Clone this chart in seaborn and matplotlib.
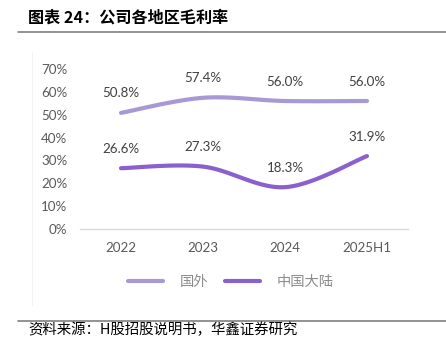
import numpy as np
import pandas as pd
import matplotlib
matplotlib.use("Agg")
import matplotlib.pyplot as plt
from matplotlib.lines import Line2D
import seaborn as sns

categories = ["2022", "2023", "2024", "2025H1"]
overseas = [50.8, 57.4, 56.0, 56.0]
mainland = [26.6, 27.3, 18.3, 31.9]
series_names = ["国外", "中国大陆"]
yticks = [0, 10, 20, 30, 40, 50, 60, 70]
title = "图表 24：公司各地区毛利率"
source = "资料来源：H股招股说明书，华鑫证券研究"

colors = {"国外": "#A898D3", "中国大陆": "#8A60CE"}

sns.set_theme(style="white")
plt.rcParams["font.family"] = ["Lato", "Noto Sans CJK SC", "DejaVu Sans"]


def smooth(xs, ys, n=40):
    """Excel-like smoothed line via cubic Bezier segments (Catmull-Rom tangents)."""
    xs = np.asarray(xs, float)
    ys = np.asarray(ys, float)
    px, py = [], []
    k = len(xs)
    for i in range(k - 1):
        i0 = max(i - 1, 0)
        i3 = min(i + 2, k - 1)
        p0 = np.array([xs[i], ys[i]])
        p3 = np.array([xs[i + 1], ys[i + 1]])
        c1 = p0 + (p3 - np.array([xs[i0], ys[i0]])) / 6.0
        c2 = p3 - (np.array([xs[i3], ys[i3]]) - p0) / 6.0
        t = np.linspace(0, 1, n)[:, None]
        pts = ((1 - t) ** 3) * p0 + 3 * ((1 - t) ** 2) * t * c1 + 3 * (1 - t) * t ** 2 * c2 + t ** 3 * p3
        if i > 0:
            pts = pts[1:]
        px.extend(pts[:, 0])
        py.extend(pts[:, 1])
    return px, py


xpos = np.arange(len(categories))
frames = []
for name, vals in zip(series_names, [overseas, mainland]):
    sx, sy = smooth(xpos, vals)
    frames.append(pd.DataFrame({"x": sx, "y": sy, "series": name, "order": np.arange(len(sx))}))
df = pd.concat(frames, ignore_index=True)

fig = plt.figure(figsize=(4.46, 3.38), dpi=100)
ax = fig.add_axes([80 / 446, 1 - 229 / 338, 328 / 446, 160 / 338])

sns.lineplot(data=df, x="x", y="y", hue="series", palette=colors, sort=False,
             estimator=None, units="series", linewidth=3.0, legend=False, ax=ax,
             solid_capstyle="round")

for name, vals in zip(series_names, [overseas, mainland]):
    for xi, v in zip(xpos, vals):
        ax.annotate(f"{v:.1f}%", (xi, v), xytext=(0, 14), textcoords="offset points",
                    ha="center", va="center", fontsize=9.6, color="#404040")

ax.set_xlim(-0.5, len(categories) - 0.5)
ax.set_ylim(0, 70)
ax.set_yticks(yticks)
ax.set_yticklabels([f"{t}%" for t in yticks])
ax.set_xticks(xpos)
ax.set_xticklabels(categories)
ax.tick_params(axis="both", length=0, labelsize=9.6, labelcolor="#595959")
ax.tick_params(axis="y", pad=9)
ax.tick_params(axis="x", pad=9)
ax.set_xlabel("")
ax.set_ylabel("")
for s in ["top", "right", "left"]:
    ax.spines[s].set_visible(False)
ax.spines["bottom"].set_color("#D9D9D9")
ax.spines["bottom"].set_linewidth(1.0)
ax.grid(False)

handles = [Line2D([], [], color=colors[n], lw=3.0, solid_capstyle="round") for n in series_names]
leg = fig.legend(handles, series_names, loc="center", bbox_to_anchor=(231 / 446, 1 - 281 / 338),
                 ncol=2, frameon=False, fontsize=10.3, handlelength=2.4, handletextpad=1.2,
                 columnspacing=1.2, labelcolor="#8C8C8C")

fig.text(28 / 446, 1 - 18 / 338, title, fontsize=11.6, fontweight="bold", va="center", ha="left",
         family=["Noto Sans CJK SC", "DejaVu Sans"], color="#000000")
fig.add_artist(Line2D([18 / 446, 1.0], [1 - 32 / 338] * 2, color="#7F7F7F", lw=1.2))
fig.add_artist(Line2D([32 / 446] * 2, [1 - 52 / 338, 1 - 305 / 338], color="#F2F2F2", lw=0.8))
fig.add_artist(Line2D([18 / 446, 1.0], [1 - 321 / 338] * 2, color="#7F7F7F", lw=1.2))
fig.text(28 / 446, 1 - 330 / 338, source, fontsize=10.4, va="center", ha="left",
         family=["Noto Sans CJK SC", "DejaVu Sans"], color="#000000")

fig.savefig("out.png", dpi=100)
